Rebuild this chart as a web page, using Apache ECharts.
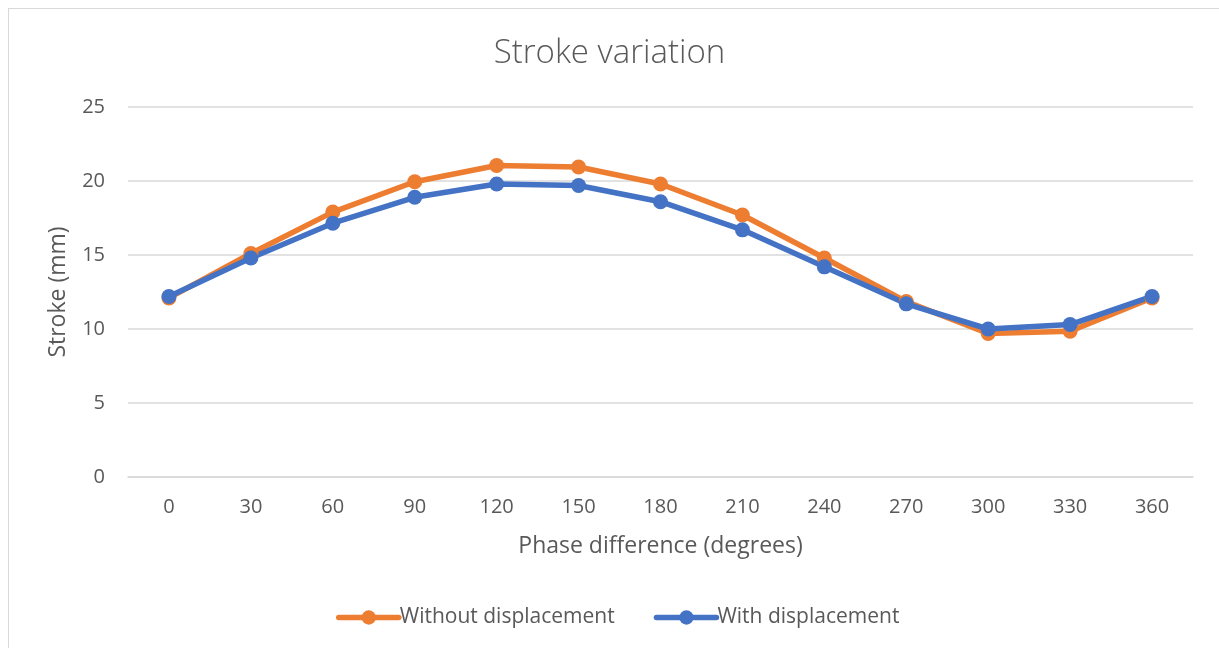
<!DOCTYPE html>
<html>
<head>
<meta charset="utf-8">
<title>Stroke variation</title>
<script src="https://cdn.jsdelivr.net/npm/echarts@6/dist/echarts.min.js"></script>
<style>
  html, body { margin: 0; padding: 0; background: #ffffff; }
  #frame { position: absolute; left: 8px; top: 8px; width: 1300px; height: 700px;
           border-left: 1px solid #d9d9d9; border-top: 1px solid #d9d9d9; }
  #chart { position: absolute; left: 0; top: 0; width: 1219px; height: 648px; }
</style>
</head>
<body>
<div id="frame"></div>
<div id="chart"></div>
<script>
// Phase difference (degrees) on the category axis
const phases = ['0', '30', '60', '90', '120', '150', '180', '210', '240', '270', '300', '330', '360'];
// Stroke (mm) for each configuration
const withoutDisplacement = [12.1, 15.1, 17.9, 19.95, 21.05, 20.95, 19.8, 17.7, 14.8, 11.85, 9.7, 9.85, 12.1];
const withDisplacement    = [12.2, 14.8, 17.15, 18.9, 19.8, 19.7, 18.6, 16.7, 14.2, 11.7, 10.0, 10.3, 12.2];
const yTicks = { min: 0, max: 25, interval: 5 };

const textColor = '#595959';
const fontFamily = '"Open Sans", "DejaVu Sans", sans-serif';

const chart = echarts.init(document.getElementById('chart'), null, { renderer: 'canvas' });

function lineSeries(name, data, color) {
  return {
    name: name,
    type: 'line',
    data: data,
    symbol: 'circle',
    symbolSize: 15,
    lineStyle: { width: 5.5, color: color, cap: 'round', join: 'round' },
    itemStyle: { color: color },
    emphasis: { disabled: true },
    animation: false
  };
}

chart.setOption({
  animation: false,
  textStyle: { fontFamily: fontFamily },
  title: {
    text: 'Stroke variation',
    left: 'center',
    top: 32,
    textStyle: { fontFamily: fontFamily, fontSize: 33, fontWeight: 300, color: textColor }
  },
  legend: {
    bottom: 15,
    left: 331,
    itemWidth: 60,
    itemHeight: 18,
    itemGap: 39,
    lineStyle: { width: 5.5 },
    textStyle: { fontFamily: fontFamily, fontSize: 21, color: textColor, padding: [0, 0, 0, -4] },
    data: ['Without displacement', 'With displacement']
  },
  grid: { left: 128, right: 26, top: 107, bottom: 171, containLabel: false },
  xAxis: {
    type: 'category',
    data: phases,
    boundaryGap: true,
    name: 'Phase difference (degrees)',
    nameLocation: 'middle',
    nameGap: 58,
    nameTextStyle: { fontFamily: fontFamily, fontSize: 23, color: textColor },
    axisLine: { show: true, lineStyle: { color: '#d9d9d9', width: 1.5 } },
    axisTick: { show: false },
    axisLabel: { margin: 20, fontFamily: fontFamily, fontSize: 20, color: textColor }
  },
  yAxis: {
    type: 'value',
    min: yTicks.min,
    max: yTicks.max,
    interval: yTicks.interval,
    name: 'Stroke (mm)',
    nameLocation: 'middle',
    nameGap: 58,
    nameRotate: 90,
    nameTextStyle: { fontFamily: fontFamily, fontSize: 23, color: textColor },
    axisLine: { show: false },
    axisTick: { show: false },
    axisLabel: { margin: 23, fontFamily: fontFamily, fontSize: 20, color: textColor },
    splitLine: { lineStyle: { color: '#d9d9d9', width: 1.5 } }
  },
  series: [
    lineSeries('Without displacement', withoutDisplacement, '#ED7D31'),
    lineSeries('With displacement', withDisplacement, '#4472C4')
  ]
});
</script>
</body>
</html>
